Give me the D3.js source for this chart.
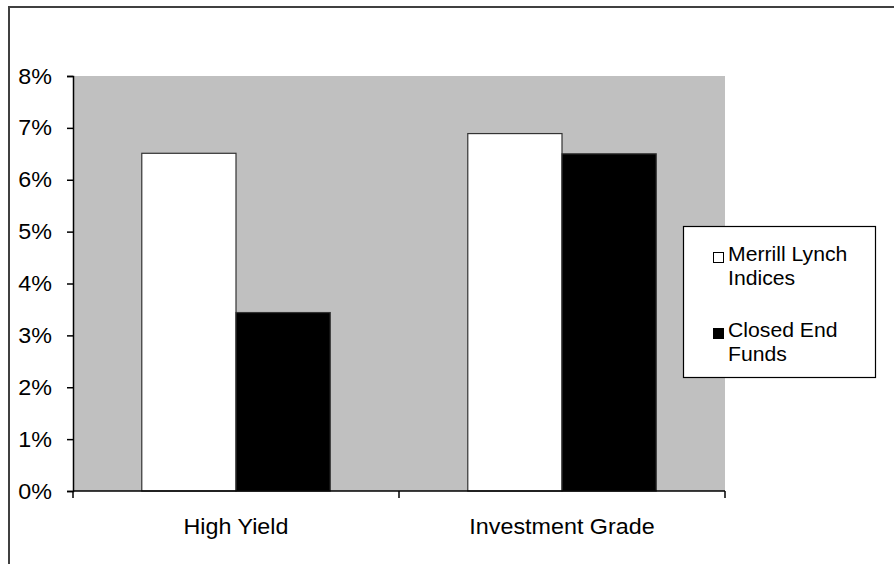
<!DOCTYPE html>
<html>
<head>
<meta charset="utf-8">
<script src="https://cdn.jsdelivr.net/npm/d3@7"></script>
<style>
  html, body { margin: 0; padding: 0; background: #fff; }
  svg { display: block; font-family: Arial, "Liberation Sans", sans-serif; }
</style>
</head>
<body>
<svg id="chart" width="894" height="564"></svg>
<script>
// Yield comparison: index yields vs. closed-end fund yields
const categories = ["High Yield", "Investment Grade"];
const seriesNames = ["Merrill Lynch Indices", "Closed End Funds"];
const legendLines = [["Merrill Lynch", "Indices"], ["Closed End", "Funds"]];
const merrillLynch = [6.51, 6.89];
const closedEnd = [3.44, 6.50];
const yTicks = [0, 1, 2, 3, 4, 5, 6, 7, 8];

const seriesColors = ["#ffffff", "#000000"];
const seriesValues = [merrillLynch, closedEnd];

const svg = d3.select("#chart");
const W = 894, H = 564;
const plot = { left: 73, top: 76, right: 725, bottom: 491 };
const STRETCH = 1.06; // slightly wide lettering

// horizontal stretch of a text element about its own anchor point
function widen(sel, ax, ay) {
  sel.attr("transform", `translate(${ax},${ay}) scale(${STRETCH},1) translate(${-ax},${-ay})`);
}

// outer chart frame (runs off the right and bottom edges)
svg.append("rect")
  .attr("x", 9).attr("y", 7)
  .attr("width", W + 20).attr("height", H + 20)
  .attr("fill", "#fff").attr("stroke", "#404040").attr("stroke-width", 2);

const x0 = d3.scaleBand().domain(categories).range([plot.left, plot.right]).padding(0);
const x1 = d3.scaleBand().domain(d3.range(seriesNames.length))
  .range([0, x0.bandwidth()]).paddingInner(0).paddingOuter(0.73);
const y = d3.scaleLinear().domain([0, 8]).range([plot.bottom, plot.top]);

// plot area background
svg.append("rect")
  .attr("x", plot.left).attr("y", plot.top)
  .attr("width", plot.right - plot.left).attr("height", plot.bottom - plot.top)
  .attr("fill", "#c0c0c0");

// bars
const groups = svg.append("g").selectAll("g").data(categories).join("g")
  .attr("transform", d => `translate(${x0(d)},0)`);
groups.selectAll("rect")
  .data((d, i) => seriesValues.map((vals, s) => ({ s, v: vals[i] })))
  .join("rect")
  .attr("x", d => x1(d.s))
  .attr("y", d => y(d.v))
  .attr("width", x1.bandwidth())
  .attr("height", d => y(0) - y(d.v))
  .attr("fill", d => seriesColors[d.s])
  .attr("stroke", "#333")
  .attr("stroke-width", 1.2);

// y axis
const yAxis = svg.append("g")
  .attr("transform", `translate(${plot.left},0)`)
  .call(d3.axisLeft(y).tickValues(yTicks).tickFormat(d => d + "%").tickSize(6).tickPadding(15));
yAxis.select(".domain").attr("stroke", "#000").attr("stroke-width", 1.5);
yAxis.selectAll(".tick line").attr("stroke", "#000").attr("stroke-width", 1.5);
yAxis.selectAll("text").attr("font-size", 22).attr("fill", "#000")
  .attr("font-family", "Arial, 'Liberation Sans', sans-serif")
  .each(function () { widen(d3.select(this), -21, 0); });

// x axis: ticks sit on band boundaries, labels centred in bands
const xAxisG = svg.append("g").attr("transform", `translate(0,${plot.bottom})`);
xAxisG.append("line")
  .attr("x1", plot.left).attr("x2", plot.right)
  .attr("stroke", "#000").attr("stroke-width", 1.5);
const bounds = [plot.left, ...categories.map(c => x0(c) + x0.bandwidth())];
xAxisG.selectAll("line.tk").data(bounds).join("line").attr("class", "tk")
  .attr("x1", d => d).attr("x2", d => d).attr("y1", 0).attr("y2", 7)
  .attr("stroke", "#000").attr("stroke-width", 1.5);
xAxisG.selectAll("text").data(categories).join("text")
  .attr("x", d => x0(d) + x0.bandwidth() / 2)
  .attr("y", 43)
  .attr("text-anchor", "middle")
  .attr("font-size", 22)
  .text(d => d)
  .each(function (d) { widen(d3.select(this), x0(d) + x0.bandwidth() / 2, 43); });

// legend
const lg = svg.append("g");
lg.append("rect")
  .attr("x", 683.5).attr("y", 226.5).attr("width", 192).attr("height", 151)
  .attr("fill", "#fff").attr("stroke", "#000").attr("stroke-width", 1.2);
const entries = lg.selectAll("g").data(seriesNames).join("g")
  .attr("transform", (d, i) => `translate(0,${i * 76})`);
entries.append("rect")
  .attr("x", 713.5).attr("y", 252.5).attr("width", 10).attr("height", 10)
  .attr("fill", (d, i) => seriesColors[i]).attr("stroke", "#000").attr("stroke-width", 1);
entries.each(function (d, i) {
  const t = d3.select(this).append("text").attr("font-size", 20);
  legendLines[i].forEach((ln, j) => {
    t.append("tspan").attr("x", 728).attr("y", 261 + j * 24).text(ln);
  });
  widen(t, 728, 261);
});
</script>
</body>
</html>
